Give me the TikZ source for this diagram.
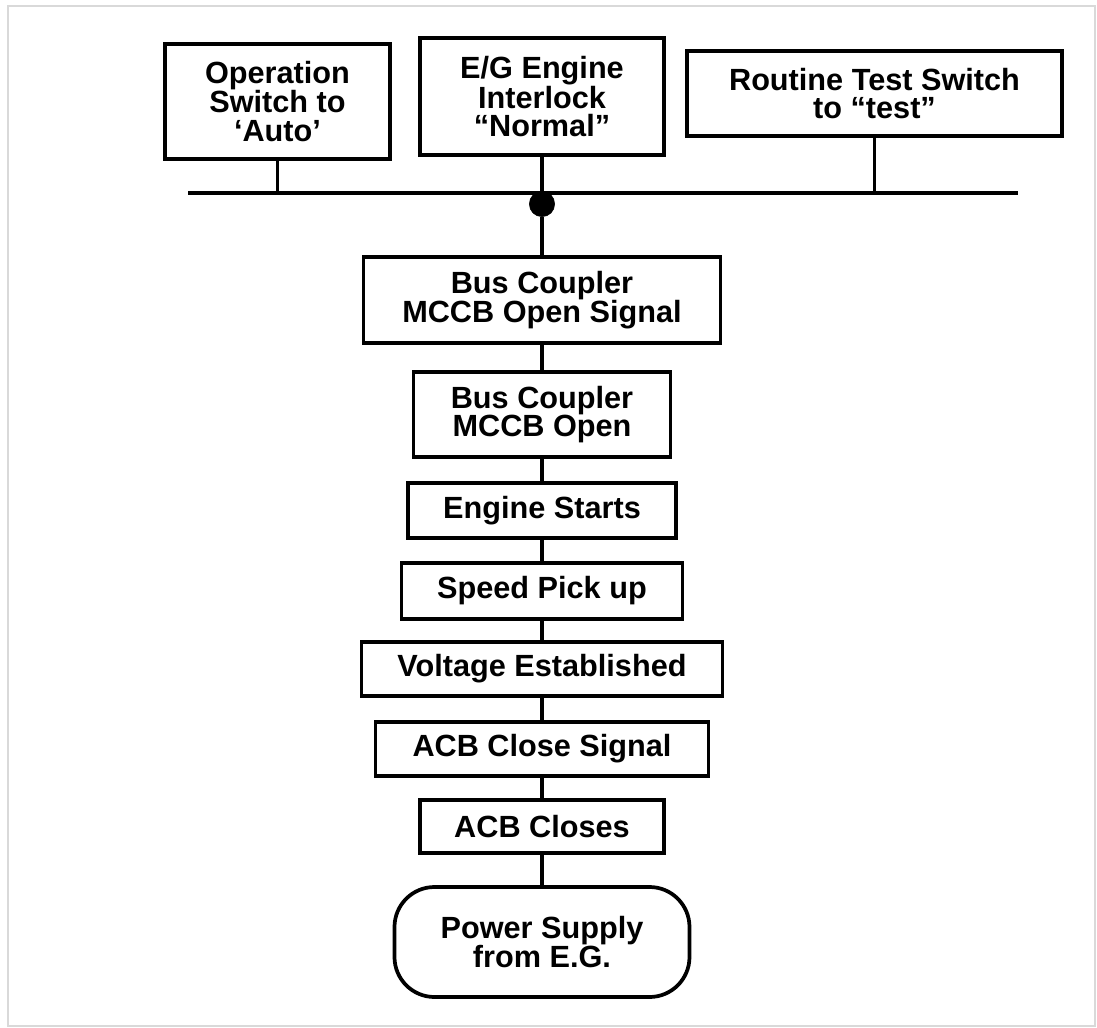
\documentclass[tikz,border=0pt]{standalone}
\usepackage{fontspec}
\setmainfont{Liberation Sans}
\usepackage{tikz}
\pgfdeclarelayer{edgelayer}
\pgfdeclarelayer{nodelayer}
\pgfsetlayers{edgelayer,nodelayer,main}
\tikzstyle{edge}=[draw=black, line width=2.8pt]
\tikzstyle{box}=[rectangle, fill=white, draw=black, line width=2.8pt, inner sep=0pt, align=center, font=\bfseries\fontsize{23}{21.5}\selectfont]
\tikzstyle{terminal}=[box, rounded corners=30pt]
\tikzstyle{junction}=[circle, fill=black, draw=black, inner sep=0pt, minimum size=19pt]

\begin{document}
\begin{tikzpicture}[x=0.75pt, y=-0.75pt]
	\useasboundingbox (0, 0) rectangle (1097, 1028);
	\draw [gray!30, line width=1.5pt] (8, 6) rectangle (1095, 1026);
	\begin{pgfonlayer}{nodelayer}
		\node [style=box, minimum width=168.75pt, minimum height=86.25pt] (1) at (277.5, 101.5) {Operation\\Switch to\\‘Auto’};
		\node [style=box, minimum width=183pt, minimum height=87.75pt] (2) at (542, 96.5) {E/G Engine\\Interlock\\“Normal”};
		\node [style=box, minimum width=281.25pt, minimum height=63.75pt] (3) at (874.5, 93.5) {Routine Test Switch\\to “test”};
		\node [style=junction] (4) at (542, 204) {};
		\node [style=box, minimum width=267.75pt, minimum height=64.5pt] (5) at (542, 300) {Bus Coupler\\MCCB Open Signal};
		\node [style=box, minimum width=192.75pt, minimum height=63.75pt] (6) at (542, 414.5) {Bus Coupler\\MCCB Open};
		\node [style=box, minimum width=201pt, minimum height=41.25pt] (7) at (542, 510.5) {Engine Starts};
		\node [style=box, minimum width=210.75pt, minimum height=42pt] (8) at (542, 591) {Speed Pick up};
		\node [style=box, minimum width=270.75pt, minimum height=40.5pt] (9) at (542, 669) {Voltage Established};
		\node [style=box, minimum width=249.75pt, minimum height=40.5pt] (10) at (542, 749) {ACB Close Signal};
		\node [style=box, minimum width=183pt, minimum height=39.75pt] (11) at (542, 826.5) {ACB Closes};
		\node [style=terminal, minimum width=221.25pt, minimum height=82.5pt] (12) at (542, 942) {Power Supply\\from E.G.};
		\coordinate (busL) at (188, 193);
		\coordinate (busR) at (1018, 193);
	\end{pgfonlayer}
	\begin{pgfonlayer}{edgelayer}
		\draw [style=edge] (busL) to (busR);
		\draw [style=edge] (1.south) to (1.south |- busL);
		\draw [style=edge] (2) to (4);
		\draw [style=edge] (3.south) to (3.south |- busR);
		\draw [style=edge] (4) to (5);
		\draw [style=edge] (5) to (6);
		\draw [style=edge] (6) to (7);
		\draw [style=edge] (7) to (8);
		\draw [style=edge] (8) to (9);
		\draw [style=edge] (9) to (10);
		\draw [style=edge] (10) to (11);
		\draw [style=edge] (11) to (12);
	\end{pgfonlayer}
\end{tikzpicture}
\end{document}
